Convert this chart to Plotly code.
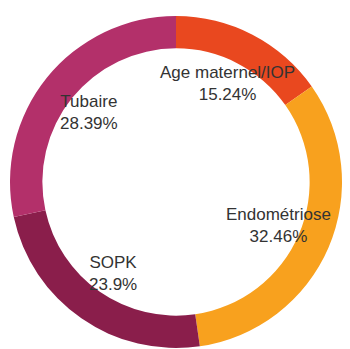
import numpy as np
import plotly.graph_objects as go

labels = ["Age maternel/IOP", "Endométriose", "SOPK", "Tubaire"]
values = [15.24, 32.46, 23.9, 28.39]
colors = ["#E9481F", "#F8A11E", "#8A1E4B", "#B3306A"]

W, H = 350, 349
cx_px, cy_px, r_px = 176, 182, 166
dom_x = [(cx_px - r_px) / W, (cx_px + r_px) / W]
dom_y = [1 - (cy_px + r_px) / H, 1 - (cy_px - r_px) / H]

fig = go.Figure(go.Pie(
    labels=labels, values=values, hole=0.805, sort=False,
    direction="clockwise", rotation=0,
    marker=dict(colors=colors, line=dict(width=0)),
    textinfo="none", hoverinfo="label+percent",
    domain=dict(x=dom_x, y=dom_y), showlegend=False,
))

total = sum(values)
cum = np.cumsum([0] + values[:-1])
lab_r = 0.67 * r_px
for lab, v, c0 in zip(labels, values, cum):
    ang = 2 * np.pi * (c0 + v / 2) / total
    x_px = cx_px + lab_r * np.sin(ang)
    y_px = cy_px - lab_r * np.cos(ang)
    fig.add_annotation(
        x=x_px / W, y=1 - y_px / H, xref="paper", yref="paper",
        text=f"{lab}<br>{v:g}%", showarrow=False,
        font=dict(family="Liberation Sans, Arial", size=17, color="#333333"),
        xanchor="center", yanchor="middle", align="center",
    )

fig.update_layout(
    width=W, height=H, margin=dict(l=0, r=0, t=0, b=0),
    paper_bgcolor="white", plot_bgcolor="white",
)
fig.write_html("out.html")
